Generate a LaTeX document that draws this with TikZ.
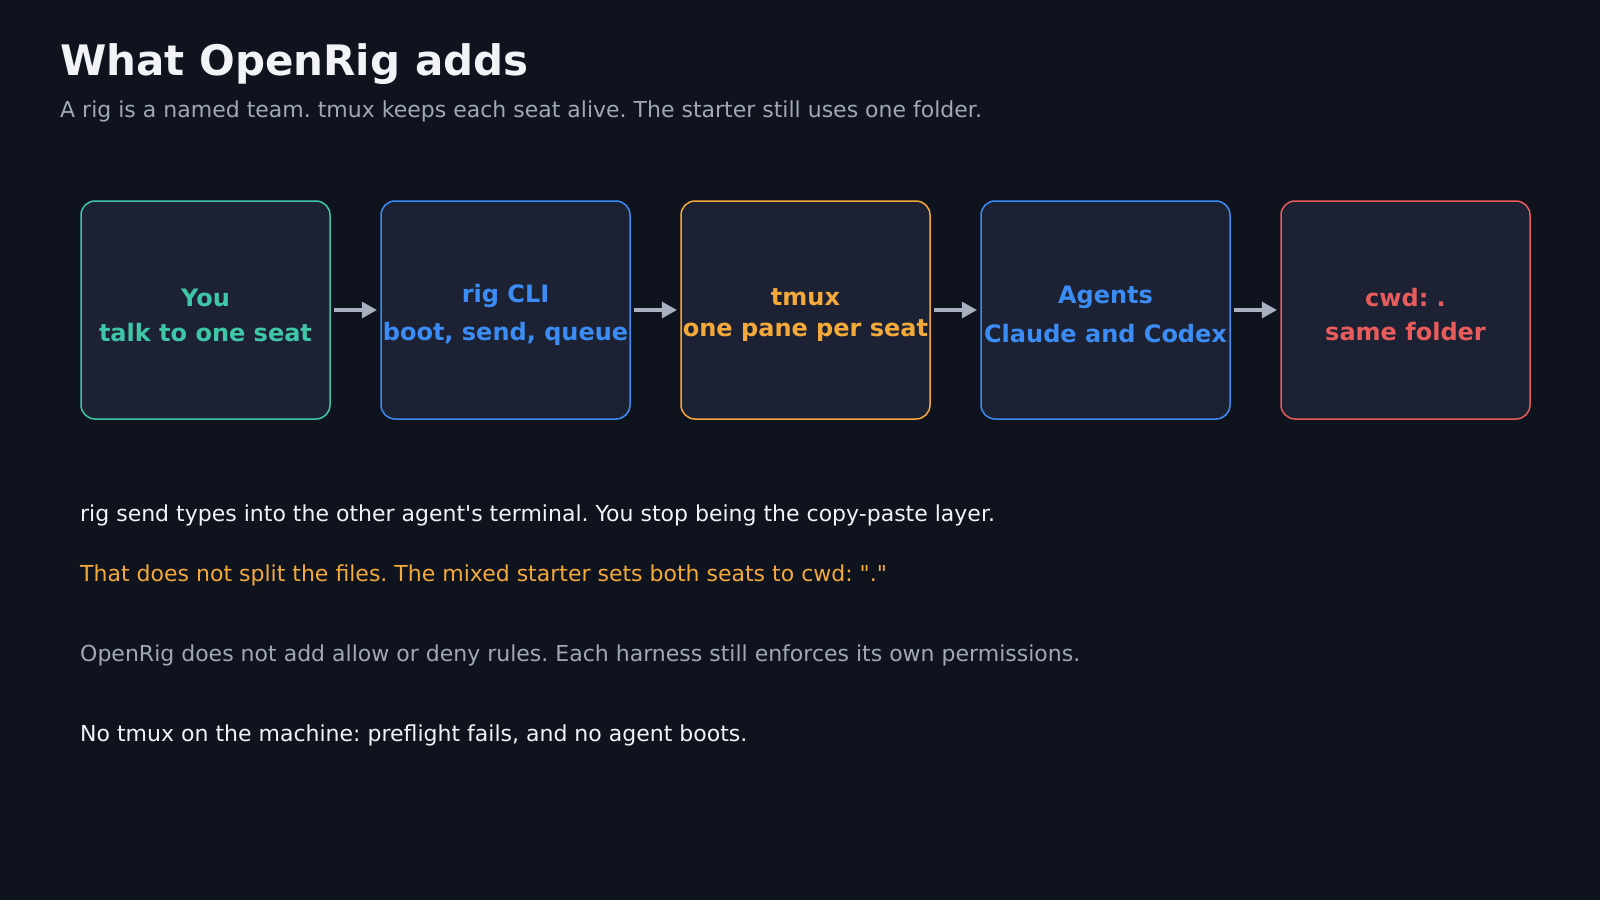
\documentclass[tikz,border=0pt]{standalone}
\usepackage{fontspec}
\setmainfont{DejaVu Sans}[Ligatures=TeXOff]
\frenchspacing
\usetikzlibrary{arrows.meta}

\definecolor{bgdark}{HTML}{0F131E}
\definecolor{boxfill}{HTML}{1C2233}
\definecolor{seatgreen}{HTML}{3EC6A6}
\definecolor{cliblue}{HTML}{3B8DF5}
\definecolor{paneorange}{HTML}{F4A93B}
\definecolor{cwdred}{HTML}{E85C5C}
\definecolor{arrowgray}{HTML}{A9B0BF}
\definecolor{subgray}{HTML}{A0A7B6}
\definecolor{textwhite}{HTML}{F1F3F6}

\begin{document}
\begin{tikzpicture}[x=1pt, y=-1pt,
    stage/.style={draw, fill=boxfill, line width=1.5pt, rounded corners=14pt,
        minimum width=249pt, minimum height=218pt, inner sep=0pt},
    head/.style={anchor=base, inner sep=0pt, font=\fontsize{24}{28}\selectfont\bfseries},
    flow/.style={draw=arrowgray, line width=4pt,
        -{Triangle[length=15pt, width=17pt, line width=0pt]},
        shorten <=3.5pt, shorten >=3.5pt},
    note/.style={anchor=base west, inner sep=0pt, font=\fontsize{22}{26}\selectfont}]
    % page
    \fill[bgdark] (0,0) rectangle (1600,900);
    \useasboundingbox (0,0) rectangle (1600,900);
    % title
    \node[anchor=base west, inner sep=0pt, text=textwhite,
        font=\fontsize{42}{48}\selectfont\bfseries] (title) at (60,75) {What OpenRig adds};
    \node[note, text=subgray] (subtitle) at (60,117)
        {A rig is a named team. tmux keeps each seat alive. The starter still uses one folder.};
    % stages
    \node[stage, draw=seatgreen] (you) at (205.5,310) {};
    \node[stage, draw=cliblue] (cli) at (505.5,310) {};
    \node[stage, draw=paneorange] (tmux) at (805.5,310) {};
    \node[stage, draw=cliblue] (agents) at (1105.5,310) {};
    \node[stage, draw=cwdred] (cwd) at (1405.5,310) {};
    \node[head, text=seatgreen] (you-top) at (205.5,306.5) {You};
    \node[head, text=seatgreen] (you-sub) at (205.5,341) {talk to one seat};
    \node[head, text=cliblue] (cli-top) at (505.5,302.7) {rig CLI};
    \node[head, text=cliblue] (cli-sub) at (505.5,340) {boot, send, queue};
    \node[head, text=paneorange] (tmux-top) at (805.5,305) {tmux};
    \node[head, text=paneorange] (tmux-sub) at (805.5,336.7) {one pane per seat};
    \node[head, text=cliblue] (agents-top) at (1105.5,303.3) {Agents};
    \node[head, text=cliblue] (agents-sub) at (1105.5,342.3) {Claude and Codex};
    \node[head, text=cwdred] (cwd-top) at (1405.5,306) {cwd: .};
    \node[head, text=cwdred] (cwd-sub) at (1405.5,340.7) {same folder};
    % arrows
    \draw[flow] (you) -- (cli);
    \draw[flow] (cli) -- (tmux);
    \draw[flow] (tmux) -- (agents);
    \draw[flow] (agents) -- (cwd);
    % notes
    \node[note, text=textwhite] (send) at (80,521)
        {rig send types into the other agent's terminal. You stop being the copy-paste layer.};
    \node[note, text=paneorange] (split) at (80,581)
        {That does not split the files. The mixed starter sets both seats to cwd: "."};
    \node[note, text=subgray] (rules) at (80,661)
        {OpenRig does not add allow or deny rules. Each harness still enforces its own permissions.};
    \node[note, text=textwhite] (preflight) at (80,741)
        {No tmux on the machine: preflight fails, and no agent boots.};
\end{tikzpicture}
\end{document}
